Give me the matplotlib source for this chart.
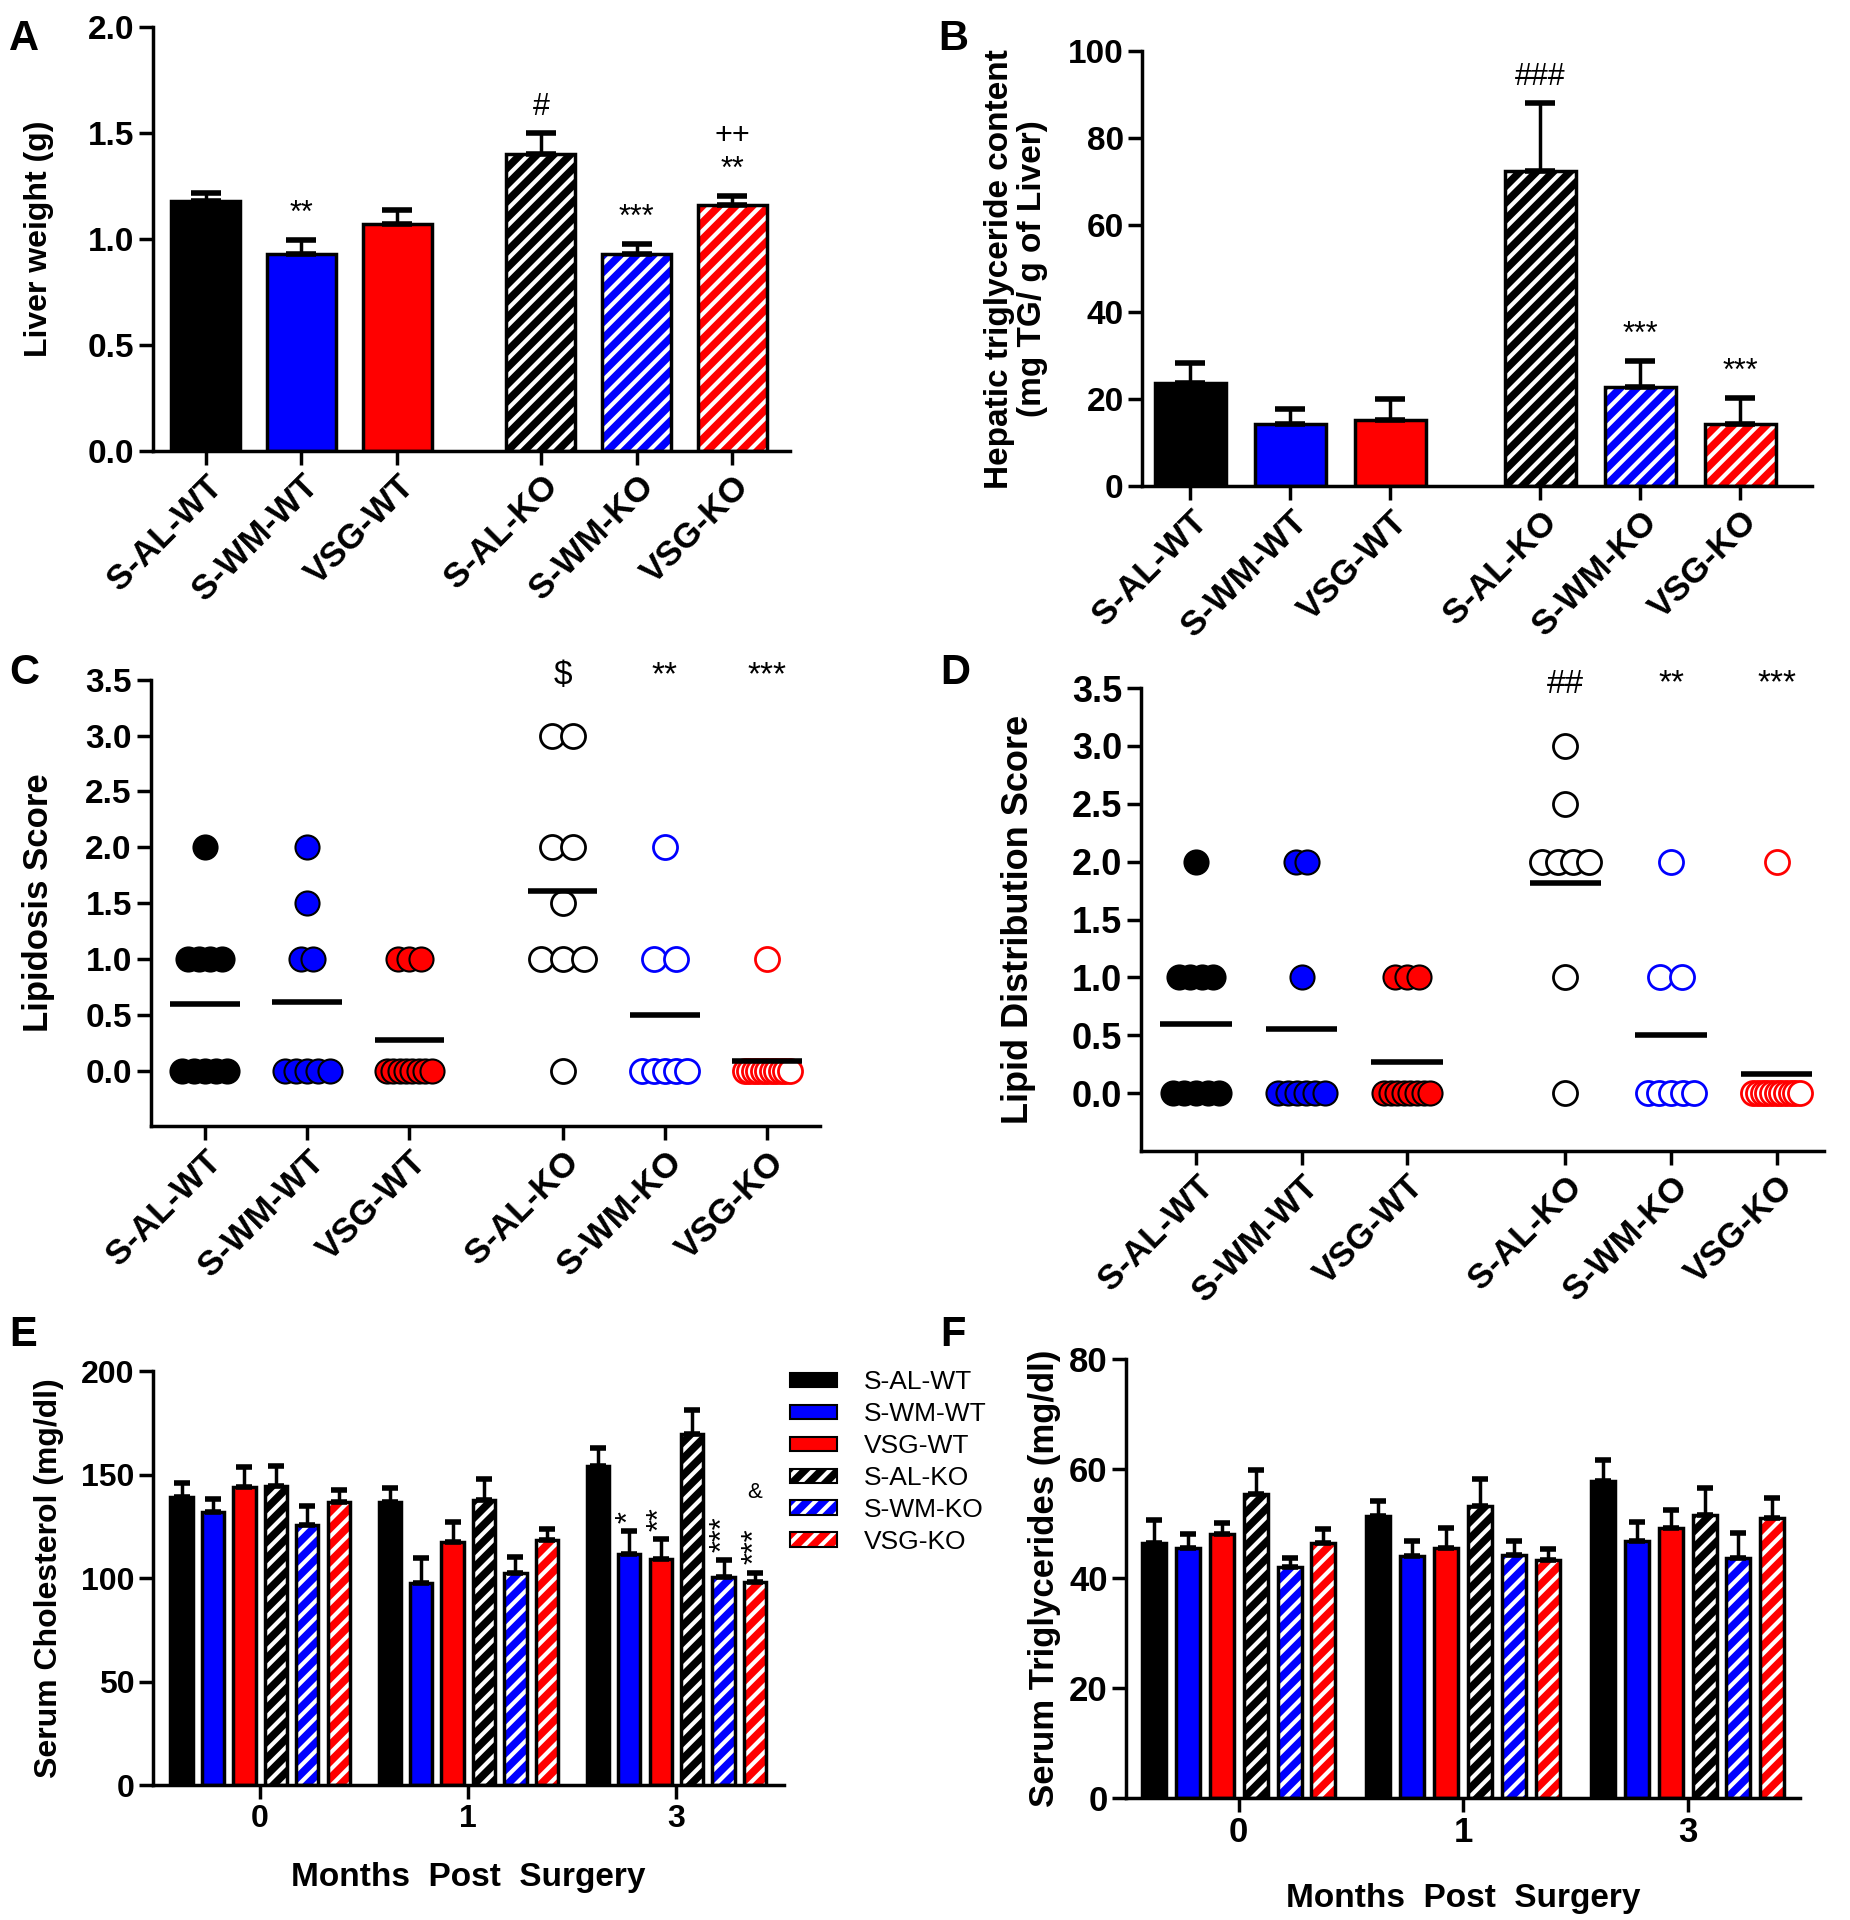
import matplotlib
matplotlib.use('Agg')
import matplotlib.pyplot as plt
from matplotlib.patches import Patch
import numpy as np

# ---- data ----
groups = ['S-AL-WT', 'S-WM-WT', 'VSG-WT', 'S-AL-KO', 'S-WM-KO', 'VSG-KO']
group_colors = ['black', 'blue', 'red', 'black', 'blue', 'red']
group_ko = [False, False, False, True, True, True]
months = ['0', '1', '3']

# A: liver weight (g)
liver_weight = [1.18, 0.93, 1.07, 1.40, 0.93, 1.16]
liver_weight_sem = [0.035, 0.065, 0.065, 0.10, 0.045, 0.04]
liver_marks = ['', '**', '', '#', '***', '++\n**']

# B: hepatic TG (mg TG / g liver)
hep_tg = [23.8, 14.2, 15.3, 72.5, 22.8, 14.4]
hep_tg_sem = [4.5, 3.5, 4.8, 15.6, 6.0, 5.9]
hep_tg_marks = ['', '', '', '###', '***', '***']

# C: lipidosis score, individual animals
lipidosis = [
    [2, 1, 1, 1, 1, 0, 0, 0, 0, 0],
    [2, 1.5, 1, 1, 0, 0, 0, 0, 0],
    [1, 1, 1, 0, 0, 0, 0, 0, 0, 0, 0],
    [3, 3, 2, 2, 1.5, 1, 1, 1, 0],
    [2, 1, 1, 0, 0, 0, 0, 0],
    [1, 0, 0, 0, 0, 0, 0, 0, 0, 0, 0, 0],
]
lipidosis_marks = ['', '', '', '$', '**', '***']

# D: lipid distribution score
lipid_dist = [
    [2, 1, 1, 1, 1, 0, 0, 0, 0, 0],
    [2, 2, 1, 0, 0, 0, 0, 0, 0],
    [1, 1, 1, 0, 0, 0, 0, 0, 0, 0, 0],
    [3, 2.5, 2, 2, 2, 2, 1, 0],
    [2, 1, 1, 0, 0, 0, 0, 0],
    [2, 0, 0, 0, 0, 0, 0, 0, 0, 0, 0, 0],
]
lipid_dist_marks = ['', '', '', '##', '**', '***']

# E: serum cholesterol (mg/dl), rows = groups, cols = months 0, 1, 3
chol = [
    [139.4, 137.1, 154.5],
    [132.1, 97.6, 111.6],
    [144.2, 117.4, 109.4],
    [144.7, 137.7, 169.7],
    [125.8, 102.7, 100.6],
    [136.8, 118.4, 98.1],
]
chol_sem = [
    [6.9, 6.8, 8.7],
    [6.3, 12.1, 11.3],
    [9.7, 9.7, 9.6],
    [9.7, 10.5, 11.9],
    [9.2, 7.8, 8.3],
    [6.1, 5.6, 4.6],
]
chol_marks_m3 = ['', '*', '**', '', '***', '***']

# F: serum triglycerides (mg/dl)
serum_tg = [
    [46.4, 51.4, 57.8],
    [45.5, 44.0, 46.8],
    [48.1, 45.6, 49.1],
    [55.4, 53.2, 51.6],
    [42.1, 44.3, 43.8],
    [46.4, 43.3, 51.1],
]
serum_tg_sem = [
    [4.3, 2.8, 3.8],
    [2.6, 2.8, 3.4],
    [2.0, 3.6, 3.4],
    [4.4, 4.9, 4.9],
    [1.7, 2.5, 4.5],
    [2.6, 2.1, 3.5],
]

# ---- style ----
NARROW = ['Liberation Sans Narrow', 'Liberation Sans', 'DejaVu Sans']
WIDE = ['Liberation Sans', 'DejaVu Sans']
plt.rcParams['font.family'] = NARROW
plt.rcParams['hatch.linewidth'] = 3
plt.rcParams['hatch.color'] = 'white'
LW = 2.5
cat_pos = np.array([0, 1, 2, 3.5, 4.5, 5.5])

fig = plt.figure(figsize=(18.5, 19.2), dpi=100)


def style_axes(ax, tick_size):
    for s in ['top', 'right']:
        ax.spines[s].set_visible(False)
    for s in ['left', 'bottom']:
        ax.spines[s].set_linewidth(LW)
    ax.tick_params(width=LW, length=10, labelsize=tick_size)
    for lab in ax.get_yticklabels():
        lab.set_fontweight('bold')


def draw_bar(ax, x, v, w, color, ko):
    if ko:
        ax.bar(x, v, w, color=color, edgecolor='white', hatch='//', linewidth=0, zorder=2)
        ax.bar(x, v, w, facecolor='none', edgecolor='black', linewidth=LW, zorder=3)
    else:
        ax.bar(x, v, w, color=color, edgecolor='black', linewidth=LW, zorder=2)


def cat_xticks(ax, size):
    ax.set_xticks(cat_pos)
    ax.set_xticklabels(groups, rotation=45, ha='right', rotation_mode='anchor',
                       fontsize=size, fontweight='bold', family=WIDE)


def bar_panel(ax, vals, sems, marks, width, tick_size):
    for x, v, c, ko in zip(cat_pos, vals, group_colors, group_ko):
        draw_bar(ax, x, v, width, c, ko)
    ax.errorbar(cat_pos, vals, yerr=[np.zeros(len(sems)), sems], fmt='none',
                ecolor='black', elinewidth=LW, capsize=11, capthick=LW * 1.6, zorder=4)
    for x, v, e, m in zip(cat_pos, vals, sems, marks):
        if m:
            ax.annotate(m, (x, v + e), xytext=(0, 8), textcoords='offset points',
                        ha='center', va='bottom', fontsize=22, linespacing=1.2)
    style_axes(ax, tick_size)
    cat_xticks(ax, 25)


def spread(vals, step, max_w):
    vals = np.asarray(vals, float)
    offs = np.zeros(len(vals))
    for v in np.unique(vals):
        idx = np.where(vals == v)[0]
        n = len(idx)
        if n > 1:
            s = min(step, max_w / (n - 1))
            offs[idx] = (np.arange(n) - (n - 1) / 2) * s
    return offs


def dot_panel(ax, data, marks, tick_size):
    for x, vals, c, ko in zip(cat_pos, data, group_colors, group_ko):
        if ko:
            offs = spread(vals, 0.21, 0.44)
            ax.scatter(x + offs, vals, s=300, facecolor='white', edgecolor=c,
                       linewidth=2, zorder=3, clip_on=False)
        else:
            offs = spread(vals, 0.11, 0.44)
            ax.scatter(x + offs, vals, s=300, facecolor=c, edgecolor='black',
                       linewidth=1.5, zorder=3, clip_on=False)
        m = np.mean(vals)
        ax.plot([x - 0.34, x + 0.34], [m, m], color='black', lw=4, zorder=4,
                solid_capstyle='butt')
    for x, m in zip(cat_pos, marks):
        if m:
            ax.text(x, 3.4, m, ha='center', va='bottom', fontsize=24)
    ax.set_ylim(-0.5, 3.5)
    ax.set_yticks(np.arange(0, 3.51, 0.5))
    ax.set_yticklabels([f'{t:.1f}' for t in np.arange(0, 3.51, 0.5)])
    style_axes(ax, tick_size)
    cat_xticks(ax, 25)


def group_panel(ax, vals, sems, tick_size):
    vals = np.array(vals)
    sems = np.array(sems)
    step, width = 0.151, 0.107
    gx = np.arange(len(months))
    for i in range(len(groups)):
        xs = gx + (i - 2.5) * step
        for x, v in zip(xs, vals[i]):
            draw_bar(ax, x, v, width, group_colors[i], group_ko[i])
        ax.errorbar(xs, vals[i], yerr=[np.zeros(len(months)), sems[i]], fmt='none',
                    ecolor='black', elinewidth=LW, capsize=6, capthick=LW * 1.6, zorder=4)
    ax.set_xticks(gx)
    ax.set_xticklabels(months, fontweight='bold')
    style_axes(ax, tick_size)
    return gx, step


# ---- A ----
axA = fig.add_axes([0.0827, 0.7653, 0.3443, 0.2207])
bar_panel(axA, liver_weight, liver_weight_sem, liver_marks, 0.72, 24)
axA.set_xlim(-0.55, 6.1)
axA.set_ylim(0, 2.0)
axA.set_yticks(np.arange(0, 2.01, 0.5))
axA.set_yticklabels([f'{t:.1f}' for t in np.arange(0, 2.01, 0.5)])
axA.set_ylabel('Liver weight (g)', fontsize=23, fontweight='bold', family=WIDE, labelpad=24)

# ---- B ----
axB = fig.add_axes([0.6175, 0.7468, 0.362, 0.2264])
bar_panel(axB, hep_tg, hep_tg_sem, hep_tg_marks, 0.71, 24)
axB.set_xlim(-0.48, 6.22)
axB.set_ylim(0, 100)
axB.set_yticks(np.arange(0, 101, 20))
axB.set_ylabel('Hepatic triglyceride content\n(mg TG/ g of Liver)', fontsize=24,
               fontweight='bold', family=WIDE, labelpad=14, linespacing=1.1)

# ---- C ----
axC = fig.add_axes([0.0814, 0.4133, 0.362, 0.2327])
dot_panel(axC, lipidosis, lipidosis_marks, 24)
axC.set_xlim(-0.53, 6.02)
axC.set_ylabel('Lipidosis Score', fontsize=25, fontweight='bold', family=WIDE, labelpad=22)

# ---- D ----
axD = fig.add_axes([0.6168, 0.4005, 0.3692, 0.2411])
dot_panel(axD, lipid_dist, lipid_dist_marks, 26)
axD.set_xlim(-0.52, 5.95)
axD.set_ylabel('Lipid Distribution Score', fontsize=26, fontweight='bold', family=WIDE,
               labelpad=26)

# ---- E ----
axE = fig.add_axes([0.0827, 0.0702, 0.3409, 0.2155])
gx, step = group_panel(axE, chol, chol_sem, 23)
axE.set_xlim(-0.515, 2.515)
axE.set_ylim(0, 200)
axE.set_yticks(np.arange(0, 201, 50))
axE.set_ylabel('Serum Cholesterol (mg/dl)', fontsize=23, fontweight='bold', family=WIDE,
               labelpad=12)
axE.set_xlabel('Months  Post  Surgery', fontsize=24, fontweight='bold', family=WIDE,
               labelpad=20)
for i, m in enumerate(chol_marks_m3):
    if m:
        x = gx[2] + (i - 2.5) * step
        top = chol[i][2] + chol_sem[i][2]
        axE.annotate(m, (x, top), xytext=(0, 6), textcoords='offset points',
                     ha='center', va='bottom', rotation=90, fontsize=22)
axE.annotate('&', (gx[2] + 2.5 * step, chol[5][2] + chol_sem[5][2]), xytext=(0, 50),
             textcoords='offset points', ha='center', va='bottom', fontsize=16)

handles = []
for c, ko in zip(group_colors, group_ko):
    if ko:
        handles.append((Patch(facecolor=c, edgecolor='white', hatch='//', linewidth=0),
                        Patch(facecolor='none', edgecolor='black', linewidth=1.5)))
    else:
        handles.append(Patch(facecolor=c, edgecolor='black', linewidth=1.5))
fig.legend(handles, groups, loc='upper left', bbox_to_anchor=(0.427, 0.2863),
           frameon=False, fontsize=19, handlelength=1.8, handleheight=0.45,
           labelspacing=0.3, handletextpad=1.0, borderpad=0, borderaxespad=0)

# ---- F ----
axF = fig.add_axes([0.6089, 0.0638, 0.364, 0.2283])
group_panel(axF, serum_tg, serum_tg_sem, 25)
axF.set_xlim(-0.5, 2.5)
axF.set_ylim(0, 80)
axF.set_yticks(np.arange(0, 81, 20))
axF.set_ylabel('Serum Triglycerides (mg/dl)', fontsize=25, fontweight='bold', family=WIDE,
               labelpad=6)
axF.set_xlabel('Months  Post  Surgery', fontsize=24, fontweight='bold', family=WIDE,
               labelpad=24)

# panel letters
for lab, x, y in [('A', 0.005, 0.99), ('B', 0.507, 0.99), ('C', 0.005, 0.66),
                  ('D', 0.508, 0.66), ('E', 0.005, 0.315), ('F', 0.508, 0.315)]:
    fig.text(x, y, lab, fontsize=30, fontweight='bold', family=WIDE, va='top')

fig.savefig('out.png', dpi=100)
